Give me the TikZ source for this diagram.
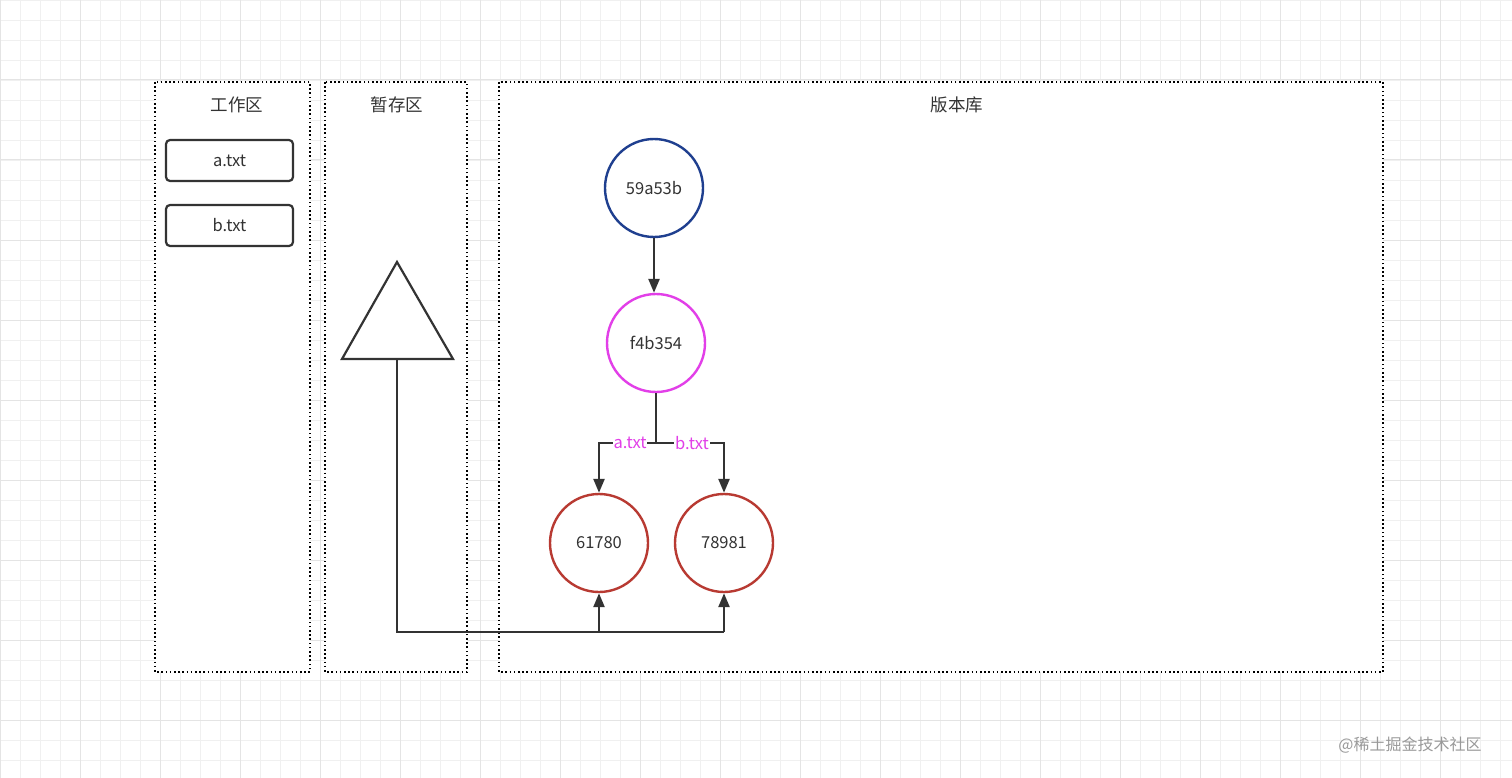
\documentclass[tikz,border=0pt]{standalone}
\usepackage{fontspec}
\setmainfont{Noto Sans CJK SC}
\usetikzlibrary{arrows.meta}
\definecolor{gridc}{HTML}{F0F0F0}
\definecolor{gridm}{HTML}{E4E4E4}
\definecolor{blu}{HTML}{1F3F8F}
\definecolor{mag}{HTML}{E23FE8}
\definecolor{rd}{HTML}{B83A32}
\definecolor{ink}{HTML}{333333}
\begin{document}
\begin{tikzpicture}[x=1pt,y=-1pt,
  zone/.style={draw=black,fill=white,line width=1.6pt,dash pattern=on 1.6pt off 2.6pt},
  file/.style={draw=ink,line width=2.2pt,rounded corners=4pt,minimum width=127pt,minimum height=41pt,font=\fontsize{16.5}{19}\selectfont,text=ink},
  commit/.style={circle,line width=2.4pt,minimum size=98pt,font=\fontsize{16.5}{19}\selectfont,text=ink,inner sep=0pt},
  conn/.style={draw=ink,line width=2.4pt},
  arr/.style={conn,-{Triangle[length=14pt,width=11pt]}},
  title/.style={font=\fontsize{17.5}{20}\selectfont,text=ink},
  lbl/.style={font=\fontsize{16.5}{19}\selectfont,text=mag,fill=white,inner sep=1pt}]
\useasboundingbox (0,0) rectangle (1512,778);
\fill[white] (0,0) rectangle (1512,778);
\foreach \i in {0,20,...,1520} {\draw[gridc,line width=0.8pt] (\i,0) -- (\i,778);}
\foreach \i in {0,20,...,780} {\draw[gridc,line width=0.8pt] (0,\i) -- (1512,\i);}
\foreach \i in {0,80,...,1520} {\draw[gridm,line width=1pt] (\i,0) -- (\i,778);}
\foreach \i in {0,80,...,780} {\draw[gridm,line width=1pt] (0,\i) -- (1512,\i);}
% zones
\draw[zone] (155,82) rectangle (310,672);
\draw[zone] (325,82) rectangle (467,672);
\draw[zone] (499,82) rectangle (1383,672);
\node[title] (t1) at (237,105) {工作区};
\node[title] (t2) at (397,105) {暂存区};
\node[title] (t3) at (957,105) {版本库};
\node[file] (a) at (229.5,160.5) {a.txt};
\node[file] (b) at (229.5,225.5) {b.txt};
% triangle
\draw[ink,line width=2.2pt,fill=white] (397,262) -- (453,359) -- (342,359) -- cycle;
\coordinate (tb) at (397,359);
% commits
\node[commit,draw=blu] (c1) at (654,188) {59a53b};
\node[commit,draw=mag] (c2) at (656,343) {f4b354};
\node[commit,draw=rd] (c3) at (599,543) {61780};
\node[commit,draw=rd] (c4) at (724,543) {78981};
\draw[arr] (c1) -- (c1 |- c2.north);
\coordinate (j) at (656,443);
\draw[conn] (c2) -- (j);
\draw[arr] (j) -- (599,443) -- (c3);
\draw[arr] (j) -- (724,443) -- (c4);
\node[lbl] (la) at (630,443) {a.txt};
\node[lbl] (lb) at (692,443) {b.txt};
\coordinate (bl) at (397,632);
\draw[conn] (tb) -- (bl) -- (724,632);
\draw[arr] (599,632) -- (c3);
\draw[arr] (724,632) -- (c4);
\node[font=\fontsize{16}{19}\selectfont,text=gray!80] (wm) at (1410,745) {@稀土掘金技术社区};
\end{tikzpicture}
\end{document}
